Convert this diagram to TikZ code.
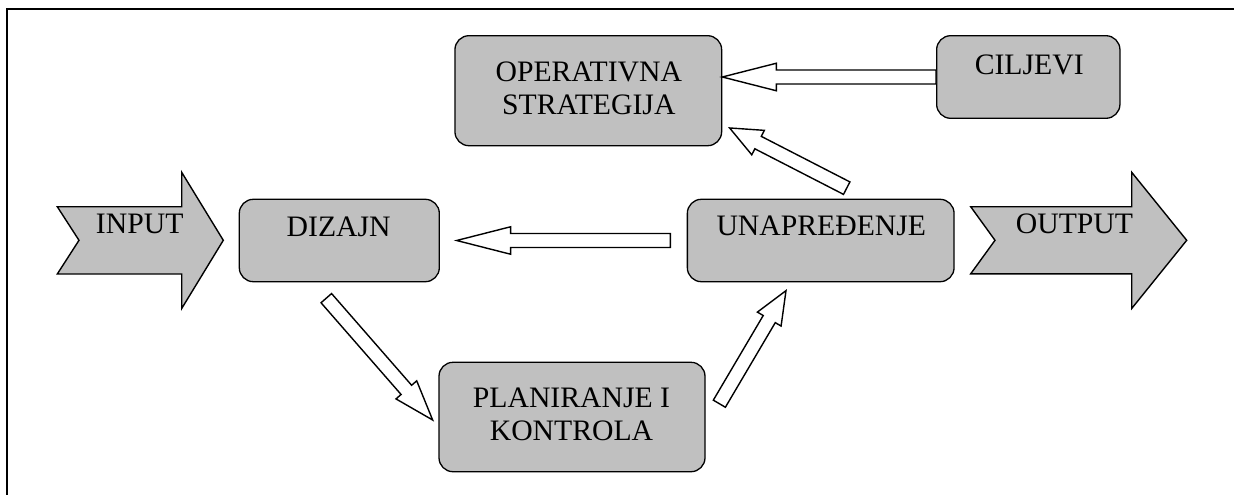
\documentclass[tikz,border=0pt]{standalone}
\usepackage{fontspec}
\setmainfont{Liberation Serif}
\usetikzlibrary{calc}
\definecolor{boxgray}{RGB}{192,192,192}

% hollow block arrow from #2 to #3, head length #1
\newcommand\hollowarrow[3][54]{%
  \path #2 coordinate (ha) #3 coordinate (hb);
  \path ($(hb)!#1pt!(ha)$) coordinate (hc);
  \draw[harrow] ($(ha)!7pt!90:(hb)$) -- ($(hc)!7pt!90:(hb)$)
    -- ($(hc)!13.75pt!90:(hb)$) -- (hb) -- ($(hc)!13.75pt!-90:(hb)$)
    -- ($(hc)!7pt!-90:(hb)$) -- ($(ha)!7pt!-90:(hb)$) -- cycle;}

\begin{document}
\begin{tikzpicture}[x=1pt,y=-1pt,
  box/.style={draw=black, line width=1.3pt, fill=boxgray, rounded corners=14pt, inner sep=0pt},
  lbl/.style={font=\fontsize{29.7}{33}\selectfont, align=center, inner sep=0pt},
  lblone/.style={lbl, text height=0.662em, text depth=0pt},
  harrow/.style={draw=black, line width=1.4pt, fill=white, line join=miter},
  chevron/.style={draw=black, line width=1.4pt, fill=boxgray, line join=miter}]
\useasboundingbox (0,0) rectangle (1234,495);
\clip (0,0) rectangle (1234,495);

% outer frame
\draw[line width=2.2pt] (1240,9) -- (7,9) -- (7,500);

% process boxes
\node[box, minimum width=266.7pt, minimum height=110pt] (oper) at (588.3,90.7) {};
\node[box, minimum width=183.3pt, minimum height=82.6pt] (cilj) at (1028.3,77) {};
\node[box, minimum width=200pt, minimum height=82.4pt] (dizajn) at (339.3,240.5) {};
\node[box, minimum width=266.7pt, minimum height=82.4pt] (unap) at (820.7,240.5) {};
\node[box, minimum width=266pt, minimum height=109.4pt] (plan) at (572,417) {};

% input / output chevrons
\draw[chevron] (57.3,206.7) -- (181.7,206.7) -- (181.7,172.3) -- (223.3,240.3)
  -- (181.7,308.5) -- (181.7,274) -- (57.3,274) -- (79,240.3) -- cycle;
\draw[chevron] (970.7,206.7) -- (1131.7,206.7) -- (1131.7,172.3) -- (1186.7,240.3)
  -- (1131.7,308.5) -- (1131.7,273.8) -- (970.7,273.8) -- (995,240.3) -- cycle;

% labels
\node[lblone] (inputl) at (139.7,229.7) {INPUT};
\node[lblone] (outputl) at (1074.5,229.7) {OUTPUT};
\node[lbl] (operl) at (588.8,88) {OPERATIVNA\\STRATEGIJA};
\node[lblone] (ciljl) at (1029.2,70.8) {CILJEVI};
\node[lblone] (dizajnl) at (338.7,232.7) {DIZAJN};
\node[lblone] (unapl) at (821.3,231.7) {UNAPREĐENJE};
\node[lbl] (planl) at (571.5,414.5) {PLANIRANJE I\\KONTROLA};

% hollow arrows
\hollowarrow{(cilj.west)}{(oper.east|-cilj.west)}
\hollowarrow[32]{($(unap.north)+(26,-10.5)$)}{($(oper.south east)+(7.3,-18.4)$)}
\hollowarrow{($(unap.west)+(-16.3,0)$)}{($(dizajn.east)+(16.7,0)$)}
\hollowarrow[40]{($(dizajn.south)+(-13,15.8)$)}{($(plan.west)+(-5.7,3)$)}
\hollowarrow[33]{($(plan.east)+(13.7,-13.3)$)}{($(unap.south)+(-34.7,8.3)$)}
\end{tikzpicture}
\end{document}
